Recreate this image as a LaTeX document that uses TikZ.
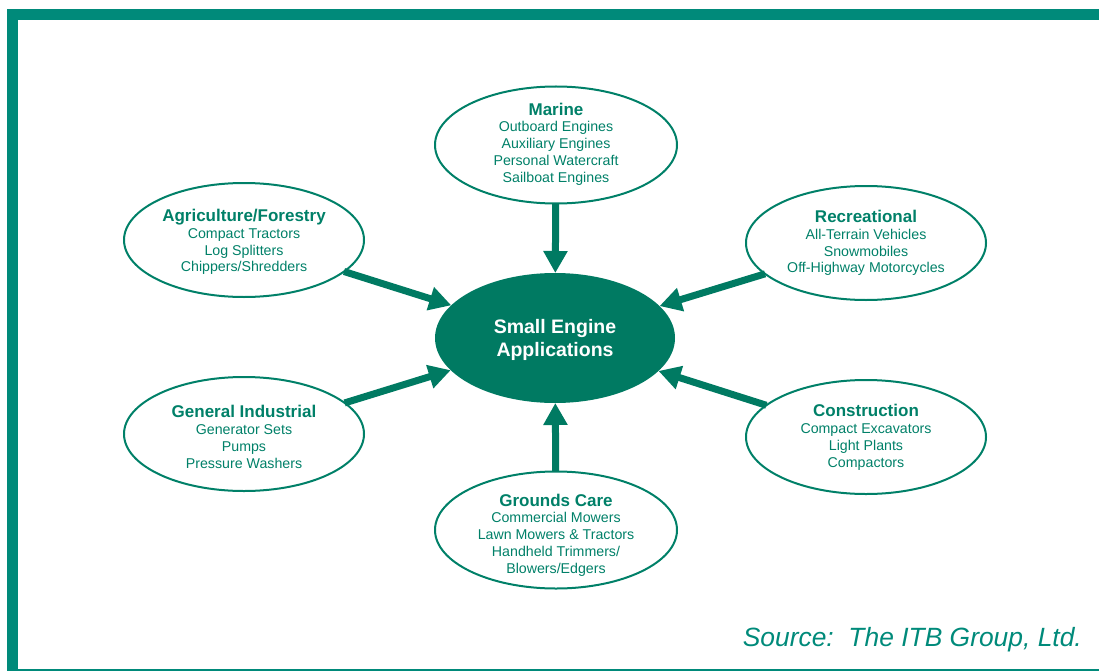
\documentclass[tikz,border=0pt]{standalone}
\usepackage{fontspec}
\setmainfont{Liberation Sans}
\usetikzlibrary{shapes.geometric,arrows.meta}
\definecolor{framecol}{RGB}{0,138,122}
\definecolor{inkcol}{RGB}{0,128,104}
\definecolor{hubcol}{RGB}{0,122,98}
\tikzset{
  oval/.style={ellipse, draw=inkcol, line width=2pt, inner sep=0pt, outer sep=0pt,
    minimum width=240pt, minimum height=114pt},
  ovalv/.style={oval, minimum width=242pt, minimum height=117pt},
  ovaltext/.style={align=center, text=inkcol, inner sep=0pt,
    font=\fontsize{14.2}{16.8}\selectfont},
  hub/.style={ellipse, fill=hubcol, draw=none, inner sep=0pt, outer sep=0pt,
    minimum width=240pt, minimum height=130pt},
  hubtext/.style={align=center, text=white, inner sep=0pt,
    font=\fontsize{19.5}{23}\selectfont\bfseries},
  feed/.style={draw=hubcol, line width=7pt, -{Triangle[length=22pt,width=23pt]}},
}
\newcommand{\ttl}[1]{{\fontsize{17}{16.8}\selectfont\bfseries #1}}
\begin{document}
\begin{tikzpicture}[x=1pt,y=-1pt]
\useasboundingbox (0,0) rectangle (1099,671);
\draw[framecol, line width=11pt] (12.3,15) rectangle (1115,674);

\node[hub] (hub) at (555,338) {};
\node[hubtext] (hubt) at (555,340) {Small Engine\\Applications};

\node[ovalv] (marine) at (556,145) {};
\node[ovaltext] (marinet) at (556,144) {\ttl{Marine}\\Outboard Engines\\Auxiliary Engines\\Personal Watercraft\\Sailboat Engines};
\node[oval] (agri) at (244,240) {};
\node[ovaltext] (agrit) at (244,242) {\ttl{Agriculture/Forestry}\\Compact Tractors\\Log Splitters\\Chippers/Shredders};
\node[oval] (rec) at (866,243) {};
\node[ovaltext] (rect) at (866,243) {\ttl{Recreational}\\All-Terrain Vehicles\\Snowmobiles\\Off-Highway Motorcycles};
\node[oval] (ind) at (244,434) {};
\node[ovaltext] (indt) at (244,437) {\ttl{General Industrial}\\Generator Sets\\Pumps\\Pressure Washers};
\node[oval] (con) at (866,437) {};
\node[ovaltext] (cont) at (866,437.5) {\ttl{Construction}\\Compact Excavators\\Light Plants\\Compactors};
\node[ovalv] (grd) at (556,530) {};
\node[ovaltext] (grdt) at (556,535) {\ttl{Grounds Care}\\Commercial Mowers\\Lawn Mowers \& Tractors\\Handheld Trimmers/\\Blowers/Edgers};

\draw[feed] (marine) -- (hub);
\draw[feed] (agri) -- (hub);
\draw[feed] (rec) -- (hub);
\draw[feed] (ind) -- (hub);
\draw[feed] (con) -- (hub);
\draw[feed] (grd) -- (hub);

\node[anchor=base east, text=framecol, font=\fontsize{26.4}{30}\selectfont\itshape, inner sep=0pt] (src) at (1082,646) {Source:\ \ The ITB Group, Ltd.};
\end{tikzpicture}
\end{document}
